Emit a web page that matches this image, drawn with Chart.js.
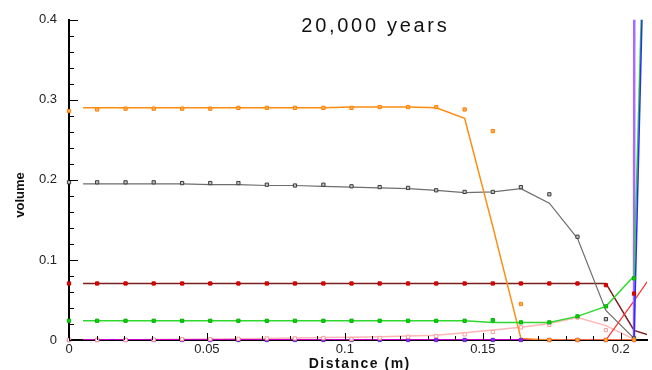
<!DOCTYPE html>
<html>
<head>
<meta charset="utf-8">
<script src="https://cdn.jsdelivr.net/npm/chart.js@4.4.1/dist/chart.umd.min.js"></script>
<style>
  html, body { margin: 0; padding: 0; background: #fff; }
  #wrap { width: 652px; height: 370px; position: relative; }
</style>
</head>
<body>
<div id="wrap"><canvas id="chart"></canvas></div>
<script>
// sample points: boundary at x = 0, then the 20 cell centres (m)
var cellX = [0, 0.0102, 0.0205, 0.0307, 0.0410, 0.0512, 0.0614, 0.0717, 0.0819, 0.0922, 0.1024,
             0.1126, 0.1229, 0.1331, 0.1434, 0.1536, 0.1638, 0.1741, 0.1843, 0.1946, 0.2048];
// model curve nodes: half cell, the cell centres, one node past the right edge
var lineX = [0.0051, 0.0102, 0.0205, 0.0307, 0.0410, 0.0512, 0.0614, 0.0717, 0.0819, 0.0922, 0.1024,
             0.1126, 0.1229, 0.1331, 0.1434, 0.1536, 0.1638, 0.1741, 0.1843, 0.1946, 0.2048, 0.2122];

var orangePts  = [0.286, 0.288, 0.289, 0.289, 0.289, 0.289, 0.290, 0.290, 0.290, 0.290, 0.290,
                  0.291, 0.291, 0.291, 0.288, 0.261, 0.045, 0, 0, 0, 0];
var orangeLine = [0.290, 0.290, 0.290, 0.290, 0.290, 0.290, 0.290, 0.290, 0.290, 0.290, 0.291,
                  0.291, 0.291, 0.290, 0.277, 0.142, 0.002, 0, 0, 0, 0, null];

var grayPts  = [0.197, 0.197, 0.197, 0.197, 0.196, 0.196, 0.196, 0.194, 0.193, 0.194, 0.192,
                0.191, 0.190, 0.187, 0.185, 0.185, 0.191, 0.182, 0.129, 0.026, 0.002];
var grayLine = [0.195, 0.195, 0.195, 0.195, 0.195, 0.194, 0.194, 0.193, 0.193, 0.192, 0.191,
                0.190, 0.189, 0.187, 0.184, 0.185, 0.189, 0.171, 0.127, 0.037, 0.002, null];

var redPts    = [0.0706, 0.0706, 0.0706, 0.0706, 0.0706, 0.0706, 0.0706, 0.0706, 0.0706, 0.0706, 0.0706,
                 0.0706, 0.0706, 0.0706, 0.0706, 0.0706, 0.0706, 0.0706, 0.0706, 0.0685, 0.058];
var brownLine = [0.0706, 0.0706, 0.0706, 0.0706, 0.0706, 0.0706, 0.0706, 0.0706, 0.0706, 0.0706, 0.0706,
                 0.0706, 0.0706, 0.0706, 0.0706, 0.0706, 0.0706, 0.0706, 0.0706, 0.0706, 0.012, 0.004];

var greenPts  = [0.024, 0.024, 0.024, 0.024, 0.024, 0.024, 0.024, 0.024, 0.024, 0.024, 0.024,
                 0.024, 0.024, 0.024, 0.024, 0.0248, 0.022, 0.022, 0.0295, 0.042, 0.077];
var greenLine = [0.024, 0.024, 0.024, 0.024, 0.024, 0.024, 0.024, 0.024, 0.024, 0.024, 0.024,
                 0.024, 0.024, 0.024, 0.024, 0.022, 0.022, 0.022, 0.0295, 0.042, 0.080, 1.0];

var pinkPts  = [0, 0, 0, 0.0005, 0.001, 0.001, 0.0015, 0.002, 0.002, 0.0025, 0.001,
                0.0025, 0.004, 0.005, 0.007, 0.010, 0.0157, 0.019, 0.028, 0.0124, 0.001];
var pinkLine = [0, 0, 0, 0.0005, 0.001, 0.0013, 0.0016, 0.002, 0.0024, 0.003, 0.0035,
                0.004, 0.005, 0.006, 0.009, 0.0124, 0.0158, 0.0207, 0.028, 0.018, 0.001, null];

var purplePts   = [0, 0, 0, 0, 0, 0, 0, 0, 0, 0, 0, 0, 0, 0, 0, 0, 0, 0, 0, 0, 0];
var magentaLine = [0, 0, 0, 0, 0, 0, 0, 0, 0, 0, 0, 0, 0, 0, 0, 0, 0, 0, 0, 0, 0, null];

// curves that shoot up at the last cell
var riseX      = [0.2048, 0.2122];
var blueRise   = [0, 1.03];
var violetRise = [0, 40];
var redRiseX   = [0.1946, 0.2048, 0.2122];
var redRise    = [0, 0.049, 0.086];

var FONT = "'Liberation Sans', Arial, sans-serif";

function pairs(xs, ys) {
  var out = [];
  for (var i = 0; i < ys.length; i++) {
    if (ys[i] !== null) out.push({ x: xs[i], y: ys[i] });
  }
  return out;
}

function marks(values, fill, edge) {
  return {
    data: pairs(cellX, values), showLine: false, pointStyle: 'rect', clip: false,
    pointRadius: 2.3, borderWidth: 1, backgroundColor: fill, borderColor: edge
  };
}

function curve(xs, values, color, width) {
  return {
    data: pairs(xs, values), showLine: true, pointRadius: 0,
    borderColor: color, borderWidth: width, backgroundColor: color, fill: false, tension: 0
  };
}

function fmt(v) { return String(+v.toFixed(3)); }

// inward tick marks, axis titles and the plot title
var decor = {
  id: 'decor',
  afterDraw: function (chart) {
    var ctx = chart.ctx, a = chart.chartArea;
    var xs = chart.scales.x, ys = chart.scales.y;
    ctx.save();
    ctx.strokeStyle = '#000';
    ctx.lineWidth = 1;
    ctx.beginPath();
    for (var i = 0; i <= 20; i++) {
      var py = Math.round(ys.getPixelForValue(i * 0.02)) + 0.5;
      var ly = (i % 5 === 0) ? 9 : 5;
      ctx.moveTo(a.left, py); ctx.lineTo(a.left + ly, py);
    }
    for (var j = 0; j <= 20; j++) {
      var px = Math.round(xs.getPixelForValue(j * 0.01)) + 0.5;
      var lx = (j % 5 === 0) ? 7 : 4;
      ctx.moveTo(px, a.bottom); ctx.lineTo(px, a.bottom - lx);
    }
    ctx.stroke();

    ctx.fillStyle = '#111';
    ctx.textBaseline = 'alphabetic';
    ctx.textAlign = 'left';

    ctx.font = '20px ' + FONT;
    ctx.letterSpacing = '2.7px';
    var t = '20,000 years';
    var w = ctx.measureText(t).width - 2.7;
    ctx.fillText(t, 374 - w / 2, 31.5);

    ctx.font = 'bold 14px ' + FONT;
    ctx.letterSpacing = '1.5px';
    var d = 'Distance (m)';
    var wd = ctx.measureText(d).width - 1.5;
    ctx.fillText(d, 359 - wd / 2, 367.5);

    ctx.letterSpacing = '0px';
    ctx.font = 'bold 13px ' + FONT;
    ctx.translate(24, 195);
    ctx.rotate(-Math.PI / 2);
    ctx.textAlign = 'center';
    ctx.fillText('volume', 0, 0);
    ctx.restore();
  }
};

var config = {
  type: 'scatter',
  data: {
    datasets: [
      marks(orangePts, '#ffab55', '#ff8000'),
      marks(grayPts, '#c4c4c4', '#3c3c3c'),
      marks(redPts, '#e00000', '#c80000'),
      marks(greenPts, '#10d010', '#00b000'),
      marks(pinkPts, '#ffffff', '#ff9a9a'),
      marks(purplePts, '#7a2ee6', '#6a20d8'),
      curve(riseX, blueRise, '#2b2bff', 1.5),
      curve(lineX, greenLine, '#2ed82e', 1.5),
      curve(riseX, violetRise, '#a86bff', 2.5),
      curve(redRiseX, redRise, '#ff2a2a', 1.2),
      curve(lineX, orangeLine, '#ff8c10', 1.5),
      curve(lineX, grayLine, '#6e6e6e', 1.2),
      curve(lineX, brownLine, '#7a1e1e', 1.5),
      curve(lineX, magentaLine, '#cc00cc', 2),
      curve(lineX, pinkLine, '#ffb6b6', 1.5)
    ]
  },
  options: {
    responsive: true,
    maintainAspectRatio: false,
    animation: false,
    events: [],
    layout: { padding: { top: 17, right: 0, bottom: 0, left: 0 } },
    plugins: {
      legend: { display: false },
      tooltip: { enabled: false }
    },
    scales: {
      x: {
        type: 'linear', min: 0, max: 0.2095,
        grid: { drawOnChartArea: false, drawTicks: false },
        border: { color: '#000', width: 2 },
        ticks: {
          stepSize: 0.05, includeBounds: false, padding: 2, maxRotation: 0, autoSkip: false,
          color: '#222', font: { family: FONT, size: 13 }, callback: fmt
        },
        afterFit: function (s) { s.height = 30; }
      },
      y: {
        type: 'linear', min: 0, max: 0.4,
        grid: { drawOnChartArea: false, drawTicks: false },
        border: { color: '#000', width: 2 },
        ticks: {
          stepSize: 0.1, padding: 12, color: '#222',
          font: { family: FONT, size: 13 }, callback: fmt
        },
        afterFit: function (s) { s.width = 69; }
      }
    }
  },
  plugins: [decor]
};

var myChart = new Chart(document.getElementById('chart'), config);
</script>
</body>
</html>
